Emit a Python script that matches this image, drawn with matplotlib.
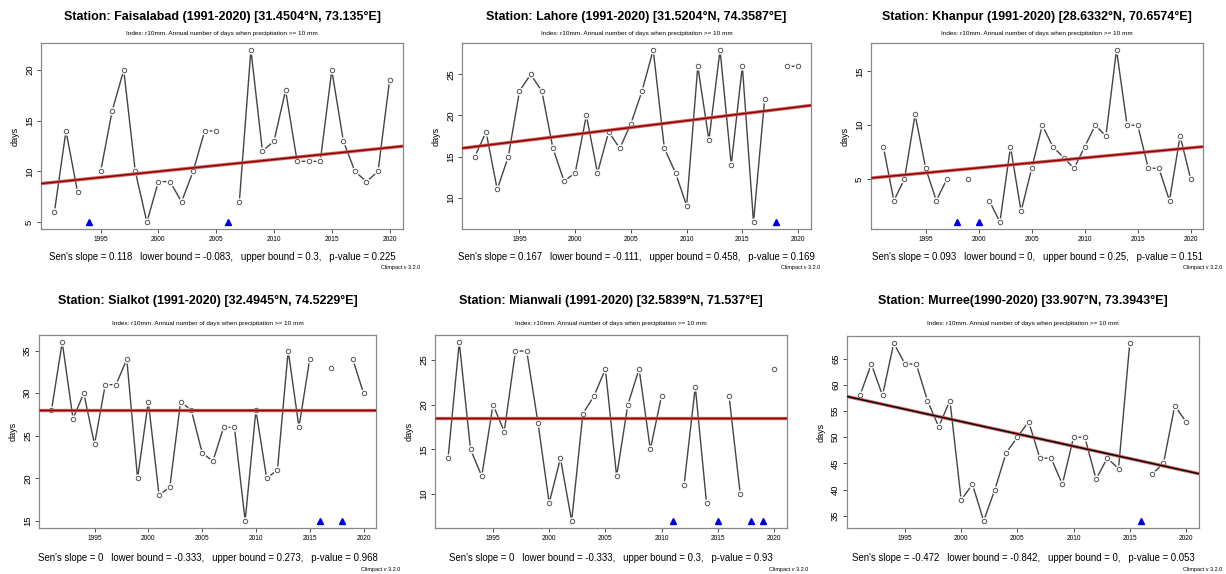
import numpy as np
import matplotlib
matplotlib.use("Agg")
import matplotlib.pyplot as plt
from matplotlib.ticker import MultipleLocator

plt.rcParams['font.family'] = ['Liberation Sans', 'DejaVu Sans']

nan = np.nan
years = np.arange(1991, 2021)

stations = ["Station: Faisalabad (1991-2020) [31.4504°N, 73.135°E]",
            "Station: Lahore (1991-2020) [31.5204°N, 74.3587°E]",
            "Station: Khanpur (1991-2020) [28.6332°N, 70.6574°E]",
            "Station: Sialkot (1991-2020) [32.4945°N, 74.5229°E]",
            "Station: Mianwali (1991-2020) [32.5839°N, 71.537°E]",
            "Station: Murree(1990-2020) [33.907°N, 73.3943°E]"]

faisalabad = [6, 14, 8, nan, 10, 16, 20, 10, 5, 9, 9, 7, 10, 14, 14,
              nan, 7, 22, 12, 13, 18, 11, 11, 11, 20, 13, 10, 9, 10, 19]
lahore = [15, 18, 11, 15, 23, 25, 23, 16, 12, 13, 20, 13, 18, 16, 19,
          23, 28, 16, 13, 9, 26, 17, 28, 14, 26, 7, 22, nan, 26, 26]
khanpur = [8, 3, 5, 11, 6, 3, 5, nan, 5, nan, 3, 1, 8, 2, 6,
           10, 8, 7, 6, 8, 10, 9, 17, 10, 10, 6, 6, 3, 9, 5]
sialkot = [28, 36, 27, 30, 24, 31, 31, 34, 20, 29, 18, 19, 29, 28, 23,
           22, 26, 26, 15, 28, 20, 21, 35, 26, 34, nan, 33, nan, 34, 30]
mianwali = [14, 27, 15, 12, 20, 17, 26, 26, 18, 9, 14, 7, 19, 21, 24,
            12, 20, 24, 15, 21, nan, 11, 22, 9, nan, 21, 10, nan, nan, 24]
murree = [58, 64, 58, 68, 64, 64, 57, 52, 57, 38, 41, 34, 40, 47, 50,
          53, 46, 46, 41, 50, 50, 42, 46, 44, 68, nan, 43, 45, 56, 53]
series = [faisalabad, lahore, khanpur, sialkot, mianwali, murree]

# trend line: value at 2000 and slope per year
trend_2000 = [10.0, 17.7, 6.04, 28.0, 18.5, 53.0]
trend_slope = [0.118, 0.167, 0.093, 0.0, 0.0, -0.472]

sens_text = ["Sen's slope = 0.118   lower bound = -0.083,   upper bound = 0.3,   p-value = 0.225",
             "Sen's slope = 0.167   lower bound = -0.111,   upper bound = 0.458,   p-value = 0.169",
             "Sen's slope = 0.093   lower bound = 0,   upper bound = 0.25,   p-value = 0.151",
             "Sen's slope = 0   lower bound = -0.333,   upper bound = 0.273,   p-value = 0.968",
             "Sen's slope = 0   lower bound = -0.333,   upper bound = 0.3,   p-value = 0.93",
             "Sen's slope = -0.472   lower bound = -0.842,   upper bound = 0,   p-value = 0.053"]

subtitle = "Index: r10mm. Annual number of days when precipitation >= 10 mm"

W, H = 1226, 574
fig = plt.figure(figsize=(W / 100, H / 100), dpi=100)

# axes boxes in pixels (left, right, top, bottom)
boxes = [(41, 403, 43, 229), (462, 811, 43, 229), (871, 1203, 43, 229),
         (39, 376, 335, 528), (435, 787, 335, 528), (847, 1199, 336, 528)]
title_y = [17, 17, 17, 301, 301, 301]
sub_y = [33, 33, 33, 324, 324, 324]
sens_y = [257, 257, 257, 558, 558, 558]
climp = [(420, 268), (820, 268), (1222, 268), (400, 570), (808, 570), (1222, 570)]

for i in range(6):
    l, r, t, b = boxes[i]
    ax = fig.add_axes([l / W, 1 - b / H, (r - l) / W, (b - t) / H])
    y = np.array(series[i], dtype=float)
    ymin, ymax = np.nanmin(y), np.nanmax(y)
    pad = 0.04 * (ymax - ymin)
    ax.set_xlim(1991 - 0.04 * 29, 2020 + 0.04 * 29)
    ax.set_ylim(ymin - pad, ymax + pad)

    ax.plot(years, y, color='#444444', lw=1.0, zorder=2)
    ax.plot(years, y, 'o', ms=6, color='white', mec='none', zorder=3)
    ax.plot(years, y, 'o', ms=3.2, mfc='white', mec='#555555', mew=0.7, zorder=4)

    miss = years[np.isnan(y)]
    ax.plot(miss, np.full(len(miss), ymin), '^', ms=5, color='#0000dd', zorder=4)

    xx = np.array(ax.get_xlim())
    ty = trend_2000[i] + trend_slope[i] * (xx - 2000)
    ax.plot(xx, ty, color='#d06060', lw=2.4, zorder=5, solid_capstyle='butt')
    core = 'black' if i == 5 else '#8a0000'
    ax.plot(xx, ty, color=core, lw=1.0, zorder=6, solid_capstyle='butt')

    ax.yaxis.set_major_locator(MultipleLocator(5))
    ax.set_xticks([1995, 2000, 2005, 2010, 2015, 2020])
    ax.tick_params(axis='x', labelsize=4.8, length=3, width=0.6, pad=2, color='#333333')
    ax.tick_params(axis='y', labelsize=6.8, length=3, width=0.6, pad=2, color='#333333')
    for lab in ax.get_yticklabels():
        lab.set_rotation(90)
        lab.set_va('center')
    for s in ax.spines.values():
        s.set_color('#888888')
        s.set_linewidth(0.9)
    ax.set_ylabel("days", fontsize=6.5, labelpad=4)

    cx = (l + r) / 2 / W
    fig.text(cx, 1 - title_y[i] / H, stations[i], ha='center', va='center',
             fontsize=9.0, fontweight='bold')
    fig.text(cx, 1 - sub_y[i] / H, subtitle, ha='center', va='center', fontsize=4.6)
    fig.text(cx, 1 - sens_y[i] / H, sens_text[i], ha='center', va='center', fontsize=6.9)
    fig.text(climp[i][0] / W, 1 - climp[i][1] / H, "Climpact v 3.2.0",
             ha='right', va='center', fontsize=4)

fig.savefig("out.png", dpi=100)
